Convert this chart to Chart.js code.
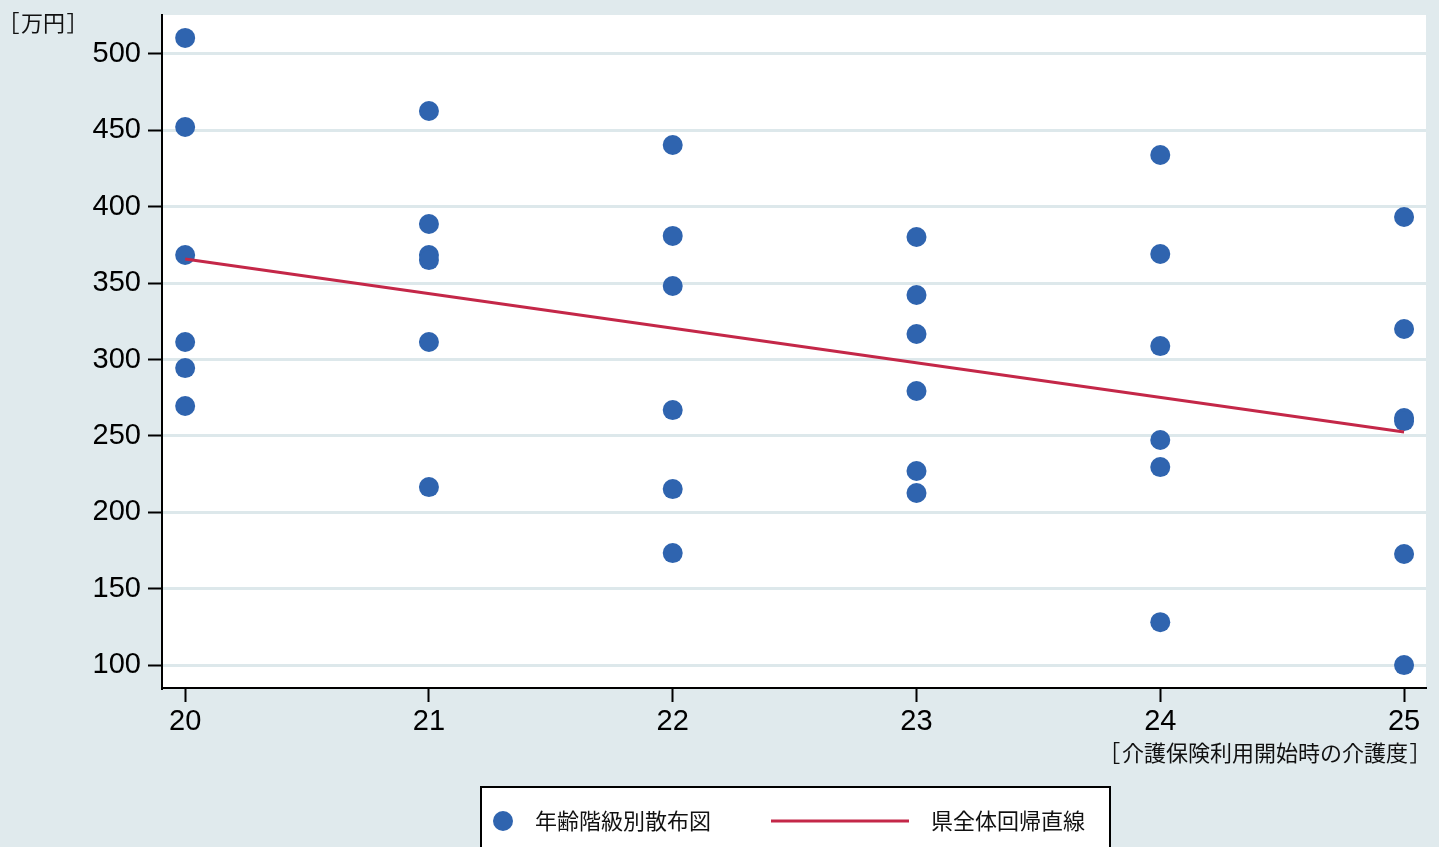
<!DOCTYPE html>
<html>
<head>
<meta charset="utf-8">
<script src="https://cdn.jsdelivr.net/npm/chart.js@4"></script>
<style>
  html, body { margin: 0; padding: 0; background: #e0eaed; }
  #wrap { position: relative; width: 1439px; height: 847px; overflow: hidden; }
  .jp { position: absolute; font-family: "Noto Sans CJK JP", sans-serif; font-size: 22px; color: #111; white-space: nowrap; }
  .br { font-feature-settings: "palt"; padding: 0 2px; }
  #legend { position: absolute; left: 480px; top: 786px; width: 627px; height: 80px; background: #fff; border: 2px solid #000; }
</style>
</head>
<body>
<div id="wrap">
  <canvas id="scatterChart" width="1439" height="847"></canvas>
  <div class="jp" style="left:6px; top:5px;"><span class="br">［</span>万円<span class="br">］</span></div>
  <div class="jp" style="right:16px; top:735px;"><span class="br">［</span>介護保険利用開始時の介護度<span class="br">］</span></div>
  <div id="legend">
    <canvas id="legendMarks" width="627" height="70" style="position:absolute; left:0; top:0;"></canvas>
    <div class="jp" style="left:53px; top:15px;">年齢階級別散布図</div>
    <div class="jp" style="left:449px; top:15px;">県全体回帰直線</div>
  </div>
</div>
<script>
// Care levels on the x axis and the values found at each level
const careLevels = [20, 21, 22, 23, 24, 25];
const level20 = [510.5, 452.2, 368.4, 311.5, 294.4, 269.6];
const level21 = [462.7, 388.7, 368.4, 365.1, 311.5, 216.5];
const level22 = [440.4, 380.9, 348.1, 266.9, 215.2, 173.3];
const level23 = [380.2, 342.2, 316.7, 279.4, 227.0, 212.6];
const level24 = [433.9, 369.1, 308.8, 247.3, 229.6, 128.1];
const level25 = [393.3, 320.0, 261.7, 259.7, 172.7, 100.0];

// Regression line end points
const fitX = [20, 25];
const fitY = [365.8, 252.5];

// Tick labels
const yTicks = [100, 150, 200, 250, 300, 350, 400, 450, 500];
const xTicks = careLevels;

const pointColor = '#2f64af';
const lineColor = '#c42748';

// Build scatter points from the level arrays
const levelValues = [level20, level21, level22, level23, level24, level25];
const scatterPoints = [];
careLevels.forEach(function (level, i) {
    levelValues[i].forEach(function (v) {
        scatterPoints.push({ x: level, y: v });
    });
});
const fitPoints = fitX.map(function (x, i) {
    return { x: x, y: fitY[i] };
});

// Paint the plot area white
const plotBackground = {
    id: 'plotBackground',
    beforeDraw(chart) {
        const a = chart.chartArea;
        const c = chart.ctx;
        c.save();
        c.fillStyle = '#ffffff';
        c.fillRect(a.left, a.top, a.right - a.left, a.bottom - a.top);
        c.restore();
    }
};

const tickFont = { family: '"Liberation Sans", Arial, sans-serif', size: 29 };

new Chart(document.getElementById('scatterChart').getContext('2d'), {
    type: 'scatter',
    data: {
        datasets: [
            {
                type: 'line',
                label: '県全体回帰直線',
                data: fitPoints,
                borderColor: lineColor,
                borderWidth: 3,
                pointRadius: 0,
                fill: false,
                order: 0
            },
            {
                label: '年齢階級別散布図',
                data: scatterPoints,
                backgroundColor: pointColor,
                borderWidth: 0,
                pointRadius: 10,
                pointHoverRadius: 10,
                order: 1
            }
        ]
    },
    options: {
        responsive: false,
        animation: false,
        layout: { padding: { left: 0, top: 15, right: 13, bottom: 0 } },
        plugins: {
            legend: { display: false },
            tooltip: { enabled: false }
        },
        scales: {
            x: {
                type: 'linear',
                min: 19.905,
                max: 25.09,
                afterBuildTicks(scale) {
                    scale.ticks = xTicks.map(function (v) { return { value: v }; });
                },
                afterFit(scale) {
                    scale.height = 159;
                    scale.paddingLeft = 0;
                    scale.paddingRight = 0;
                },
                ticks: { font: tickFont, color: '#000', padding: 3, maxRotation: 0 },
                grid: { drawOnChartArea: false, tickLength: 14, tickColor: '#000', tickWidth: 2 },
                border: { color: '#000', width: 2 }
            },
            y: {
                min: 85,
                max: 525.5,
                afterBuildTicks(scale) {
                    scale.ticks = yTicks.map(function (v) { return { value: v }; });
                },
                afterFit(scale) {
                    scale.width = 162;
                    scale.paddingTop = 0;
                    scale.paddingBottom = 0;
                },
                ticks: { font: tickFont, color: '#000', padding: 7 },
                grid: { color: '#dde8eb', lineWidth: 3, tickLength: 14, tickColor: '#000', tickWidth: 2 },
                border: { color: '#000', width: 2 }
            }
        }
    },
    plugins: [plotBackground]
});

// Legend symbols
const lg = document.getElementById('legendMarks').getContext('2d');
lg.fillStyle = pointColor;
lg.beginPath();
lg.arc(21, 33, 10, 0, Math.PI * 2);
lg.fill();
lg.strokeStyle = lineColor;
lg.lineWidth = 3;
lg.beginPath();
lg.moveTo(289, 33);
lg.lineTo(427, 33);
lg.stroke();
</script>
</body>
</html>
